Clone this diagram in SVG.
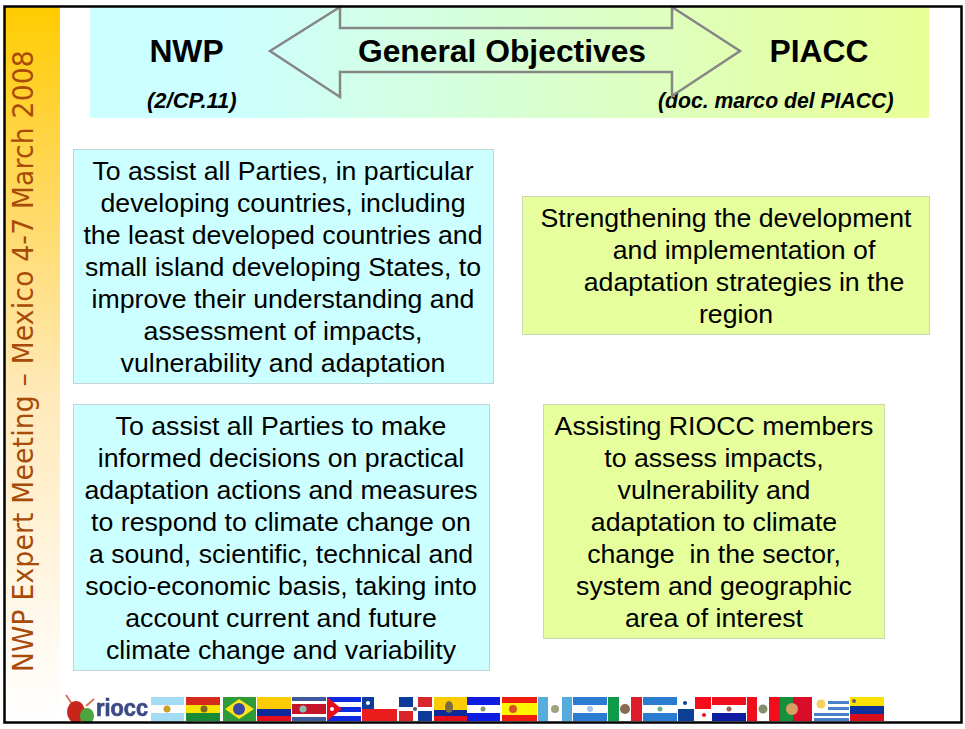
<svg xmlns="http://www.w3.org/2000/svg" width="965" height="729" viewBox="0 0 965 729">
<style>
text{font-family:"Liberation Sans",Arial,sans-serif;fill:#000}
.h{font-size:31.8px;font-weight:bold;text-anchor:middle}
.s{font-size:21.2px;font-weight:bold;font-style:italic}
.b{font-size:26.7px;text-anchor:middle;white-space:pre}
.cy{fill:#ccffff;stroke:#c4d4d4;stroke-width:1}
.yg{fill:#e6ff9c;stroke:#ccd8ae;stroke-width:1}
</style>
<defs>
<linearGradient id="side" x1="0" y1="0" x2="0" y2="1"><stop offset="0" stop-color="#ffcc00"/><stop offset="0.2" stop-color="#ffd54a"/><stop offset="0.54" stop-color="#ffe9b8"/><stop offset="0.9" stop-color="#fffaf2"/><stop offset="1" stop-color="#ffffff"/></linearGradient>
<linearGradient id="band" x1="0" y1="0" x2="1" y2="0"><stop offset="0" stop-color="#ccffff"/><stop offset="0.16" stop-color="#ccffff"/><stop offset="1" stop-color="#e9ff96"/></linearGradient>
<filter id="soft" x="-2%" y="-10%" width="104%" height="120%"><feGaussianBlur stdDeviation="0.6"/></filter>
</defs>
<rect width="965" height="729" fill="#fff"/>
<rect x="5" y="6" width="55" height="716" fill="url(#side)"/>
<g id="title-band">
<rect x="90" y="7" width="839" height="111" fill="url(#band)"/>
<text class="h" x="186.500" y="62">NWP</text>
<text class="s" x="147" y="108" style="font-size:22px">(2/CP.11)</text>
<text class="h" x="819" y="62">PIACC</text>
<text class="s" x="658" y="108">(doc. marco del PIACC)</text>
</g>
<g id="double-arrow">
<path d="M340 7V28H672V7L740 51L672 96V72H340V97L270 51L340 7Z" fill="none" stroke="#868686" stroke-width="2.500"/>
<text class="h" x="502" y="62">General Objectives</text>
</g>
<text id="side-label" transform="translate(32.500 672) rotate(-90) scale(.95 1)" font-size="28" style="fill:#a84a08;letter-spacing:.2px;font-family:'DejaVu Sans',sans-serif">NWP Expert Meeting – Mexico 4-7 March 2008</text>
<g id="nwp-1">
<rect class="cy" x="73.500" y="149.500" width="420" height="234"/>
<text class="b" x="283" y="180">To assist all Parties, in particular</text>
<text class="b" x="283" y="212">developing countries, including</text>
<text class="b" x="283" y="244">the least developed countries and</text>
<text class="b" x="283" y="276">small island developing States, to</text>
<text class="b" x="283" y="308">improve their understanding and</text>
<text class="b" x="283" y="340">assessment of impacts,</text>
<text class="b" x="283" y="372">vulnerability and adaptation</text>
</g>
<g id="nwp-2">
<rect class="cy" x="73.500" y="404.500" width="416" height="266"/>
<text class="b" x="281" y="435">To assist all Parties to make</text>
<text class="b" x="281" y="467">informed decisions on practical</text>
<text class="b" x="281" y="499">adaptation actions and measures</text>
<text class="b" x="281" y="531">to respond to climate change on</text>
<text class="b" x="281" y="563">a sound, scientific, technical and</text>
<text class="b" x="281" y="595">socio-economic basis, taking into</text>
<text class="b" x="281" y="627">account current and future</text>
<text class="b" x="281" y="659">climate change and variability</text>
</g>
<g id="piacc-1">
<rect class="yg" x="522.500" y="196.500" width="407" height="138"/>
<text class="b" x="726" y="227">Strengthening the development</text>
<text class="b" x="744" y="259">and implementation of</text>
<text class="b" x="744" y="291">adaptation strategies in the</text>
<text class="b" x="736" y="323">region</text>
</g>
<g id="piacc-2">
<rect class="yg" x="543.500" y="404.500" width="341" height="234"/>
<text class="b" x="714" y="435">Assisting RIOCC members</text>
<text class="b" x="714" y="467">to assess impacts,</text>
<text class="b" x="714" y="499">vulnerability and</text>
<text class="b" x="714" y="531">adaptation to climate</text>
<text class="b" x="714" y="563">change  in the sector,</text>
<text class="b" x="714" y="595">system and geographic</text>
<text class="b" x="714" y="627">area of interest</text>
</g>
<g id="logo-strip" filter="url(#soft)">
<path d="M66 695l6 9" stroke="#d9765a" stroke-width="2"/><path d="M94 699l-8 7" stroke="#d9765a" stroke-width="2"/>
<ellipse cx="76" cy="712" rx="9" ry="11" fill="#c8281e"/><ellipse cx="87" cy="716" rx="7" ry="8" fill="#4fa53c"/>
<text x="96" y="716" font-size="24" font-weight="bold" textLength="52" lengthAdjust="spacingAndGlyphs" stroke="#3a4a85" stroke-width="0.700" style="fill:#3a4a85">riocc</text>
<rect x="151" y="697" width="33" height="24" fill="#a3dcf5"/><rect x="151" y="705" width="33" height="8" fill="#fff"/><circle cx="167" cy="709" r="3.500" fill="#c9a02c"/>
<rect x="186" y="697" width="34" height="8" fill="#d52b1e"/><rect x="186" y="705" width="34" height="8" fill="#f9e300"/><rect x="186" y="713" width="34" height="8" fill="#138a36"/><circle cx="204" cy="709" r="3.500" fill="#7c6a20"/>
<rect x="223" y="697" width="33" height="24" fill="#2f9a37"/><path d="M225 709l14-10 15 10-15 10z" fill="#fde21a"/><circle cx="239" cy="709" r="6" fill="#3a4aa5"/>
<rect x="257" y="697" width="34" height="12" fill="#fccc00"/><rect x="257" y="709" width="34" height="7" fill="#0a2a9a"/><rect x="257" y="716" width="34" height="5" fill="#e3101a"/>
<rect x="292" y="697" width="34" height="24" fill="#fff"/><rect x="292" y="697" width="34" height="4" fill="#3c5a9c"/><rect x="292" y="717" width="34" height="4" fill="#3c5a9c"/><rect x="292" y="704" width="34" height="10" fill="#c4142a"/><circle cx="303" cy="709" r="3.500" fill="#8cbcb0"/>
<rect x="327" y="697" width="34" height="24" fill="#fff"/><rect x="327" y="697" width="34" height="5" fill="#0a2ae0"/><rect x="327" y="707" width="34" height="5" fill="#0a2ae0"/><rect x="327" y="716" width="34" height="5" fill="#0a2ae0"/><path d="M327 697l15 12-15 12z" fill="#e3101a"/><circle cx="332" cy="709" r="2" fill="#fff"/>
<rect x="362" y="697" width="35" height="12" fill="#fff"/><rect x="362" y="697" width="12" height="12" fill="#0a3a9c"/><circle cx="368" cy="703" r="2" fill="#fff"/><rect x="362" y="709" width="35" height="12" fill="#ea1a1a"/>
<rect x="398" y="697" width="34" height="24" fill="#fff"/><rect x="399" y="697" width="14" height="10" fill="#0a3a9c"/><rect x="418" y="697" width="14" height="10" fill="#d8282a"/><rect x="399" y="711" width="14" height="10" fill="#d8282a"/><rect x="418" y="711" width="14" height="10" fill="#0a3a9c"/><circle cx="415" cy="709" r="2" fill="#556"/>
<rect x="434" y="697" width="33" height="13" fill="#fccc00"/><rect x="434" y="710" width="33" height="6" fill="#0a2a9a"/><rect x="434" y="716" width="33" height="5" fill="#e3101a"/><ellipse cx="449" cy="707" rx="4" ry="6" fill="#7c6a40"/>
<rect x="467" y="697" width="33" height="24" fill="#fff"/><rect x="467" y="697" width="33" height="8" fill="#0a1ae0"/><rect x="467" y="713" width="33" height="8" fill="#0a1ae0"/><circle cx="483" cy="709" r="2.500" fill="#8a9a60"/>
<rect x="502" y="697" width="35" height="24" fill="#ee1c10"/><rect x="502" y="703" width="35" height="12" fill="#fdf500"/><circle cx="513" cy="709" r="4" fill="#d8502a"/>
<rect x="538" y="697" width="34" height="24" fill="#fff"/><rect x="538" y="697" width="10" height="24" fill="#55acdd"/><rect x="562" y="697" width="10" height="24" fill="#55acdd"/><circle cx="555" cy="709" r="4" fill="#a0a080"/>
<rect x="573" y="697" width="34" height="24" fill="#fff"/><rect x="573" y="697" width="34" height="8" fill="#2b7cd0"/><rect x="573" y="713" width="34" height="8" fill="#2b7cd0"/><circle cx="590" cy="709" r="3" fill="#a8c8ee"/>
<rect x="608" y="697" width="34" height="24" fill="#fff"/><rect x="608" y="697" width="11" height="24" fill="#109a4a"/><rect x="631" y="697" width="11" height="24" fill="#dc1a2a"/><circle cx="625" cy="709" r="5" fill="#8a6a50"/>
<rect x="643" y="697" width="34" height="24" fill="#fff"/><rect x="643" y="697" width="34" height="8" fill="#2b7cd0"/><rect x="643" y="713" width="34" height="8" fill="#2b7cd0"/><circle cx="660" cy="709" r="2.500" fill="#70b080"/>
<rect x="678" y="697" width="33" height="24" fill="#fff"/><rect x="678" y="709" width="16" height="12" fill="#0f3f95"/><rect x="695" y="697" width="16" height="12" fill="#f5101a"/><circle cx="685" cy="703" r="2" fill="#0f3f95"/><circle cx="704" cy="715" r="2" fill="#f5101a"/>
<rect x="712" y="697" width="34" height="8" fill="#f0101a"/><rect x="712" y="705" width="34" height="8" fill="#fff"/><rect x="712" y="713" width="34" height="8" fill="#0a1aa0"/><circle cx="729" cy="709" r="2.500" fill="#a06050"/>
<rect x="747" y="697" width="33" height="24" fill="#fff"/><rect x="747" y="697" width="10" height="24" fill="#f0101a"/><rect x="769" y="697" width="11" height="24" fill="#f0101a"/><circle cx="763" cy="709" r="4.500" fill="#80906a"/>
<rect x="780" y="697" width="13" height="24" fill="#16903a"/><rect x="793" y="697" width="19" height="24" fill="#d8102a"/><circle cx="792" cy="709" r="6" fill="#d8a060"/>
<rect x="813" y="697" width="36" height="24" fill="#fff"/><rect x="828" y="701" width="21" height="3" fill="#4a80c8"/><rect x="828" y="707" width="21" height="3" fill="#4a80c8"/><rect x="814" y="713" width="35" height="3" fill="#4a80c8"/><rect x="814" y="718" width="35" height="3" fill="#4a80c8"/><circle cx="821" cy="704" r="4.500" fill="#f5d060"/>
<rect x="850" y="697" width="34" height="9" fill="#fce000"/><rect x="850" y="706" width="34" height="8" fill="#10309a"/><rect x="850" y="714" width="34" height="7" fill="#d8101a"/><circle cx="854" cy="701" r="2" fill="#665"/>
</g>
<rect x="4" y="722" width="958" height="7" fill="#fff"/>
<rect id="frame" x="4.500" y="6.500" width="957" height="716" fill="none" stroke="#000" stroke-width="2.500"/>
</svg>
